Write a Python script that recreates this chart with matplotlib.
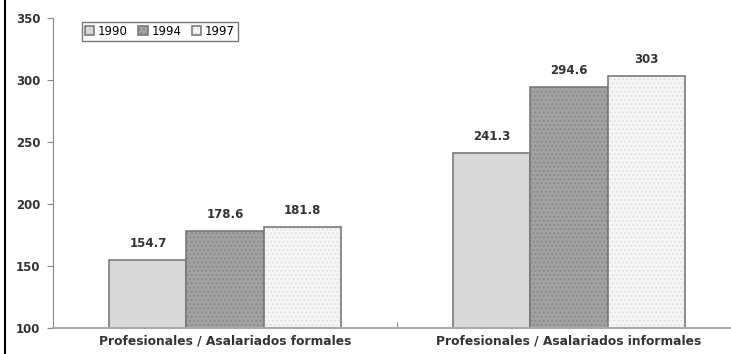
import matplotlib

matplotlib.use("Agg")
import matplotlib.pyplot as plt  # noqa: E402
import numpy as np  # noqa: E402
from matplotlib.lines import Line2D  # noqa: E402

categories = ["Profesionales / Asalariados formales", "Profesionales / Asalariados informales"]
years = ["1990", "1994", "1997"]
v1990 = [154.7, 241.3]
v1994 = [178.6, 294.6]
v1997 = [181.8, 303]

plt.rcParams["font.family"] = ["DejaVu Sans"]

fig = plt.figure(figsize=(7.31, 3.54), dpi=100)
ax = fig.add_axes([53 / 731, 1 - 328 / 354, 688 / 731, 310 / 354])

x = np.arange(len(categories))
w = 0.224
fills = ["#d8d8d8", "#a3a3a3", "#f7f7f7"]
hatches = [None, "....", "...."]
hcols = ["#bcbcbc", "#8a8a8a", "#e2e2e2"]
for i, (vals, yr) in enumerate(zip([v1990, v1994, v1997], years)):
    bars = ax.bar(x + (i - 1) * w, vals, w, bottom=0, color=fills[i], edgecolor="#7a7a7a",
                  linewidth=1.2, label=yr, zorder=2)
    for b, v in zip(bars, vals):
        if hatches[i]:
            b.set_hatch(hatches[i])
            b._hatch_color = matplotlib.colors.to_rgba(hcols[i])
        ax.text(b.get_x() + b.get_width() / 2, v + 8, f"{v:g}", ha="center", va="bottom",
                fontsize=8.5, fontweight="bold", color="#333333")

ax.set_ylim(100, 350)
ax.set_xlim(-0.5, 1.5)
ax.set_yticks(range(100, 351, 50))
ax.set_xticks([0.5])
ax.set_xticklabels([""])
ax.tick_params(axis="x", length=4, color="#888888", direction="in")
ax.tick_params(axis="y", length=4, color="#888888", labelsize=8.5, pad=5)
for lbl in ax.get_yticklabels():
    lbl.set_fontweight("bold")
    lbl.set_color("#333333")
for xc, name in zip(x, categories):
    ax.text(xc, 95, name, ha="center", va="top", fontsize=8.8, fontweight="bold",
            color="#333333", transform=ax.transData, clip_on=False)

for s in ("top", "right"):
    ax.spines[s].set_visible(False)
ax.spines["left"].set_color("#888888")
ax.spines["bottom"].set_color("#aaaaaa")
ax.spines["bottom"].set_linewidth(1.5)

leg = ax.legend(loc="upper left", bbox_to_anchor=(29 / 688, 306 / 310), borderaxespad=0,
                ncol=3, fontsize=8.5, frameon=True, fancybox=False, handlelength=0.8,
                handleheight=0.8, handletextpad=0.3, columnspacing=0.9, borderpad=0.25)
leg.get_frame().set_edgecolor("#555555")
leg.get_frame().set_linewidth(1.0)

fig.add_artist(Line2D([5 / 731, 5 / 731], [0, 1], color="black", lw=1.5))

fig.savefig("out.png", dpi=100)
